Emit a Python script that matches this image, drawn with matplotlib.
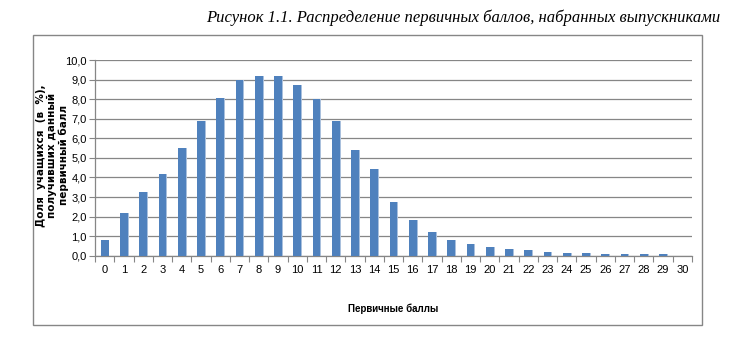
import numpy as np
import matplotlib.pyplot as plt
from matplotlib.patches import Rectangle
from matplotlib import font_manager

# Primary scores and share of students (%)
scores = list(range(31))
shares = [0.8, 2.2, 3.25, 4.2, 5.5, 6.9, 8.05, 9.0, 9.18, 9.18,
          8.72, 8.0, 6.9, 5.4, 4.45, 2.77, 1.8, 1.2, 0.8, 0.6,
          0.45, 0.35, 0.3, 0.2, 0.15, 0.15, 0.1, 0.1, 0.1, 0.1, 0.0]
y_ticks = np.arange(0, 10.5, 1.0)
y_tick_labels = [f"{v:.1f}".replace(".", ",") for v in y_ticks]

title = "Рисунок 1.1. Распределение первичных баллов, набранных выпускниками"
x_label = "Первичные баллы"
y_label = "Доля  учащихся  (в  %),\nполучивших данный\nпервичный балл"

names = {f.name for f in font_manager.fontManager.ttflist}
narrow = "Liberation Sans Narrow" if "Liberation Sans Narrow" in names else "Liberation Sans"

BAR = "#4F81BD"
SHADE = "#A9C0DD"
GRID = "#868686"

fig = plt.figure(figsize=(7.35, 3.49), dpi=100)
ax = fig.add_axes([0.1293, 0.2673, 0.8122, 0.5607])

x = np.array(scores)
ax.bar(x + 0.05, shares, width=0.4, color=SHADE, zorder=2)
ax.bar(x, shares, width=0.4, color=BAR, zorder=3)

ax.set_xlim(-0.5, 30.5)
ax.set_ylim(0, 10)
ax.set_yticks(y_ticks)
ax.set_yticklabels(y_tick_labels, fontfamily=narrow, fontsize=8)
ax.set_xticks(x)
ax.set_xticklabels([str(s) for s in scores], fontfamily=narrow, fontsize=8)
ax.set_xticks(np.arange(-0.5, 31, 1.0), minor=True)
ax.tick_params(axis="x", which="major", length=0, pad=7)
ax.tick_params(axis="x", which="minor", length=4, color=GRID, width=0.8)
ax.tick_params(axis="y", length=4, color=GRID, width=0.8, pad=2)

ax.yaxis.grid(True, color=GRID, linewidth=0.9, zorder=0)
ax.set_axisbelow(True)
for side in ("top", "right"):
    ax.spines[side].set_visible(False)
for side in ("left", "bottom"):
    ax.spines[side].set_color(GRID)
    ax.spines[side].set_linewidth(0.9)

ax.set_xlabel(x_label, fontfamily=narrow, fontsize=7, fontweight="bold", labelpad=20)

fig.text(0.071, 0.555, y_label, rotation=90, ha="center", va="center",
         fontsize=7.5, fontweight="bold", family="DejaVu Sans",
         linespacing=1.15)

fig.text(0.98, 0.95, title, ha="right", va="center", fontsize=12,
         family="Liberation Serif", style="italic")

# Chart area frame
fig.patches.append(Rectangle((33 / 735, 1 - 325 / 349), (702 - 33) / 735, (325 - 35) / 349,
                             transform=fig.transFigure, fill=False,
                             edgecolor=GRID, linewidth=1.0))

fig.savefig("out.png", dpi=100)
